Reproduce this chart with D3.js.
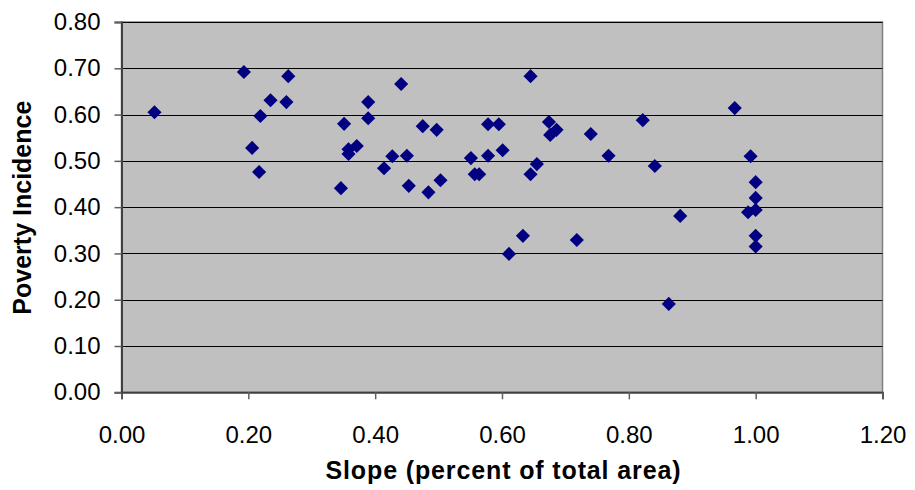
<!DOCTYPE html>
<html><head><meta charset="utf-8">
<script src="https://cdn.jsdelivr.net/npm/d3@7"></script>
<style>body{margin:0;background:#fff;}</style>
</head><body>
<script>
const slope = [0.052,0.193,0.263,0.235,0.260,0.219,0.206,0.217,0.351,0.346,0.389,0.389,0.371,0.358,0.358,0.414,0.427,0.441,0.450,0.475,0.497,0.453,0.484,0.503,0.551,0.557,0.564,0.578,0.578,0.595,0.601,0.645,0.645,0.655,0.674,0.686,0.676,0.740,0.768,0.822,0.841,0.611,0.633,0.718,0.863,0.881,0.967,0.992,1.000,1.000,0.988,1.000,1.000,1.000];
const poverty = [0.605,0.692,0.683,0.631,0.627,0.597,0.528,0.476,0.580,0.441,0.627,0.592,0.532,0.525,0.515,0.484,0.510,0.666,0.511,0.575,0.567,0.446,0.432,0.458,0.506,0.471,0.471,0.511,0.579,0.579,0.523,0.683,0.471,0.493,0.584,0.567,0.556,0.558,0.511,0.588,0.489,0.299,0.338,0.329,0.191,0.381,0.614,0.510,0.454,0.420,0.389,0.394,0.338,0.315];
const xTicks = [0,0.2,0.4,0.6,0.8,1.0,1.2];
const yTicks = [0,0.1,0.2,0.3,0.4,0.5,0.6,0.7,0.8];
const xTitle = "Slope (percent of total area)";
const yTitle = "Poverty Incidence";

const W = 915, H = 490;
const m = {left:121.5, right:882.5, top:22, bottom:392.3};
const FONT = "'Liberation Sans', Arial, sans-serif";
const svg = d3.select("body").append("svg").attr("width",W).attr("height",H)
  .style("font-family",FONT);
const x = d3.scaleLinear().domain([0,1.2]).range([m.left,m.right]);
const y = d3.scaleLinear().domain([0,0.8]).range([m.bottom,m.top]);

svg.append("rect").attr("x",m.left).attr("y",m.top).attr("width",m.right-m.left).attr("height",m.bottom-m.top)
  .attr("fill","#c0c0c0").attr("stroke","#808080").attr("stroke-width",1.5);

// gridlines
svg.append("g").selectAll("line").data(yTicks.slice(1)).join("line")
  .attr("x1",m.left).attr("x2",m.right).attr("y1",d=>Math.round(y(d))+0.5).attr("y2",d=>Math.round(y(d))+0.5)
  .attr("stroke","#000").attr("stroke-width",1);

const fmt = d3.format(".2f");
const xa = svg.append("g").attr("transform",`translate(0,${m.bottom})`)
  .call(d3.axisBottom(x).tickValues(xTicks).tickFormat(fmt).tickSize(7).tickPadding(27));
const ya = svg.append("g").attr("transform",`translate(${m.left},0)`)
  .call(d3.axisLeft(y).tickValues(yTicks).tickFormat(fmt).tickSize(7).tickPadding(14));
[xa,ya].forEach(a=>{
  a.select(".domain").attr("stroke","#404040").attr("stroke-width",2);
  a.selectAll(".tick line").attr("stroke","#606060").attr("stroke-width",1.5);
  a.selectAll("text").attr("font-size",24).attr("fill","#000").style("font-family",FONT);
});

const pts = slope.map((s,i)=>({x:s,y:poverty[i]}));
svg.append("g").selectAll("path").data(pts).join("path")
  .attr("d",d3.symbol(d3.symbolSquare,100))
  .attr("transform",d=>`translate(${x(d.x)},${y(d.y)}) rotate(45)`)
  .attr("fill","#000080");

svg.append("text").attr("x",(m.left+m.right)/2+1).attr("y",479).attr("text-anchor","middle")
  .attr("font-size",25).attr("font-weight","bold")
  .attr("textLength",355).attr("lengthAdjust","spacing").text(xTitle);
svg.append("text").attr("transform",`translate(31,${(m.top+m.bottom)/2+0.5}) rotate(-90)`).attr("text-anchor","middle")
  .attr("font-size",25).attr("font-weight","bold").text(yTitle);
</script>
</body></html>
